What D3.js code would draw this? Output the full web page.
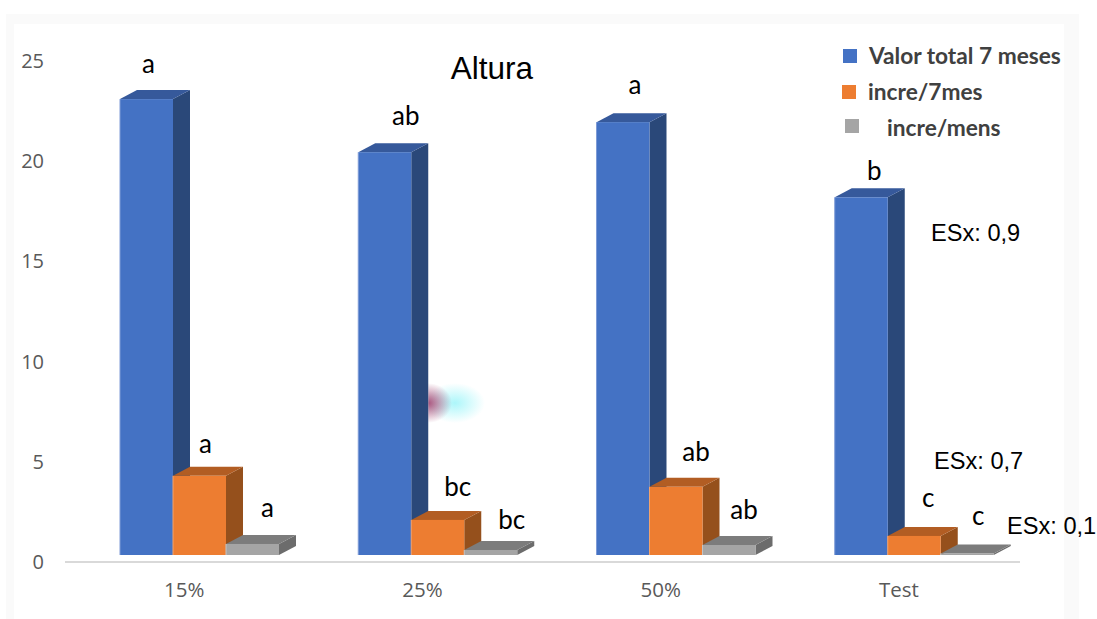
<!DOCTYPE html>
<html>
<head>
<meta charset="utf-8">
<script src="https://cdn.jsdelivr.net/npm/d3@7"></script>
<style>
  html, body { margin: 0; padding: 0; background: #fff; }
  svg { display: block; }
</style>
</head>
<body>
<svg id="chart" width="1097" height="619"></svg>
<script>
// Growth data per treatment
const categories = ["15%", "25%", "50%", "Test"];
const seriesNames = ["Valor total 7 meses", "incre/7mes", "incre/mens"];
const totalValues = [22.75, 20.1, 21.6, 17.85];
const increment7 = [3.95, 1.75, 3.4, 0.95];
const incrementMonth = [0.55, 0.25, 0.5, 0.08];
const yTicks = [0, 5, 10, 15, 20, 25];

// Significance letters, one row per series
const totalLetters = ["a", "ab", "a", "b"];
const increment7Letters = ["a", "bc", "ab", "c"];
const incrementMonthLetters = ["a", "bc", "ab", "c"];

const seriesValues = [totalValues, increment7, incrementMonth];
const seriesLetters = [totalLetters, increment7Letters, incrementMonthLetters];

// Layout
const frontFloor = 7;          // front plane sits above the axis line
const depthX = 17, depthY = 9; // oblique projection of the bar depth
const palette = [
  { front: "#4472C4", top: "#36599B", side: "#2A4879", edge: "#7E9BD6" },
  { front: "#ED7D31", top: "#B25D23", side: "#95501C", edge: "#F2A36E" },
  { front: "#A5A5A5", top: "#7C7C7C", side: "#6C6C6C", edge: "#C4C4C4" }
];
// Hand placement of each letter relative to the top-centre of its bar
const letterNudgeX = [[2, 21, 12, 13], [6, 20, 20, 14], [15, 21, 15, 11]];
const letterNudgeY = [[26, 27, 28, 17], [23, 24, 26, 29], [27, 21, 26, 28]];

const svg = d3.select("#chart");
const defs = svg.append("defs");

// Sheet background with its faint frame
svg.append("rect").attr("x", 6).attr("y", 14).attr("width", 1073).attr("height", 605).attr("fill", "#FAFAFA");
svg.append("rect").attr("x", 14).attr("y", 24).attr("width", 1050).attr("height", 595).attr("fill", "#FFFFFF");

const x = d3.scaleBand().domain(categories).range([65, 1018]);
const y = d3.scaleLinear().domain([0, 25]).range([562, 61]);
const inner = d3.scaleBand().domain(d3.range(seriesNames.length)).range([55, 214]);

// Axis line and tick labels
const axisFont = "'Open Sans', sans-serif";
const bottom = d3.axisBottom(x).tickSize(0).tickPadding(20);
const gx = svg.append("g").attr("transform", `translate(0,${y(0)})`).call(bottom);
gx.select(".domain").remove();
gx.append("line").attr("x1", 65).attr("x2", 1020)
  .attr("stroke", "#D9D9D9").attr("stroke-width", 2);
gx.selectAll("text").attr("font-family", axisFont).attr("font-size", 20.5).attr("fill", "#595959");

const left = d3.axisLeft(y).tickValues(yTicks).tickSize(0).tickPadding(0);
const gy = svg.append("g").attr("transform", "translate(44,0)").call(left);
gy.select(".domain").remove();
gy.selectAll("text").attr("font-family", axisFont).attr("font-size", 20).attr("fill", "#595959");

// Small colour smudge beside the second blue bar, clipped at the bar's side face
const smudgeEdge = x(categories[1]) + inner(0) + inner.bandwidth() + depthX;
defs.append("clipPath").attr("id", "smudgeClip")
  .append("rect").attr("x", smudgeEdge).attr("y", 370).attr("width", 80).attr("height", 70);
const smudge = [
  { id: "smudgeCyan", stop: "#A8F6FA", cx: 455, rx: 30, ry: 20, o: 0.95 },
  { id: "smudgeRed", stop: "#A0406E", cx: 428, rx: 24, ry: 20, o: 0.9 }
];
smudge.forEach(d => {
  const grad = defs.append("radialGradient").attr("id", d.id);
  grad.append("stop").attr("offset", "0%").attr("stop-color", d.stop).attr("stop-opacity", d.o);
  grad.append("stop").attr("offset", "100%").attr("stop-color", d.stop).attr("stop-opacity", 0);
  svg.append("ellipse")
    .attr("cx", d.cx).attr("cy", 403).attr("rx", d.rx).attr("ry", d.ry)
    .attr("fill", `url(#${d.id})`)
    .attr("clip-path", "url(#smudgeClip)");
});

// Oblique 3D bars: side and top faces first, front face over them
const plot = svg.append("g");
categories.forEach((cat, c) => {
  seriesNames.forEach((_, s) => {
    const v = seriesValues[s][c];
    const x0 = x(cat) + inner(s);
    const x1 = x0 + inner.bandwidth();
    const yb = y(0) - frontFloor;
    const yt = y(v) - frontFloor;
    const col = palette[s];
    const g = plot.append("g");
    g.append("polygon")
      .attr("points", [[x1, yt], [x1 + depthX, yt - depthY], [x1 + depthX, yb - depthY], [x1, yb]].join(" "))
      .attr("fill", col.side);
    g.append("polygon")
      .attr("points", [[x0, yt], [x0 + depthX, yt - depthY], [x1 + depthX, yt - depthY], [x1, yt]].join(" "))
      .attr("fill", col.top);
    g.append("rect")
      .attr("x", x0).attr("y", yt)
      .attr("width", x1 - x0).attr("height", yb - yt)
      .attr("fill", col.front);
    g.append("path")
      .attr("d", `M${x0},${yb}V${yt}`)
      .attr("stroke", col.edge).attr("stroke-width", 1).attr("fill", "none");
  });
});

// Significance letters above the bars
categories.forEach((cat, c) => {
  seriesNames.forEach((_, s) => {
    const cx = x(cat) + inner(s) + inner.bandwidth() / 2;
    svg.append("text")
      .attr("x", cx + letterNudgeX[s][c])
      .attr("y", y(seriesValues[s][c]) - frontFloor - letterNudgeY[s][c])
      .attr("text-anchor", "middle")
      .attr("font-family", "Lato, sans-serif")
      .attr("font-size", 26)
      .attr("fill", "#000")
      .text(seriesLetters[s][c]);
  });
});

// Title
svg.append("text").attr("x", 492).attr("y", 79)
  .attr("text-anchor", "middle")
  .attr("font-family", "'Liberation Sans', sans-serif")
  .attr("font-size", 31.5).attr("fill", "#000").text("Altura");

// Standard-error notes
const seNotes = ["ESx: 0,9", "ESx: 0,7", "ESx: 0,1"];
const seNoteX = [931, 934, 1007];
const seNoteY = [241, 469, 534];
seNotes.forEach((t, i) => {
  svg.append("text").attr("x", seNoteX[i]).attr("y", seNoteY[i])
    .attr("font-family", "'Liberation Sans', sans-serif")
    .attr("font-size", 23.6).attr("fill", "#000").text(t);
});

// Legend
const legendSwatchX = [843, 842, 845];
const legendSwatchY = [49, 85, 119];
const legendTextX = [869, 868, 887];
const legendTextY = [64, 100, 136];
seriesNames.forEach((name, i) => {
  svg.append("rect")
    .attr("x", legendSwatchX[i]).attr("y", legendSwatchY[i])
    .attr("width", 14).attr("height", 14)
    .attr("fill", palette[i].front);
  svg.append("text")
    .attr("x", legendTextX[i]).attr("y", legendTextY[i])
    .attr("font-family", "Lato, sans-serif")
    .attr("font-weight", 700)
    .attr("font-size", 22.7)
    .attr("fill", "#404040")
    .text(name);
});
</script>
</body>
</html>
